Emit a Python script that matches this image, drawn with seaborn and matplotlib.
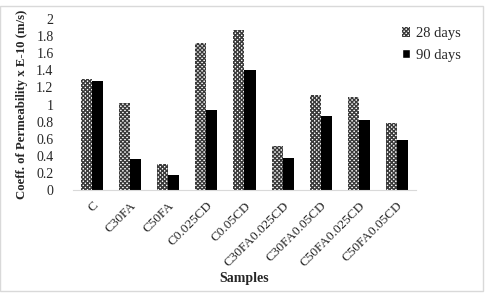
import pandas as pd
import numpy as np
import matplotlib
matplotlib.use('Agg')
import matplotlib.pyplot as plt
import seaborn as sns
from matplotlib.patches import Rectangle

# Données
samples = ['C', 'C30FA', 'C50FA', 'C0.025CD', 'C0.05CD', 'C30FA0.025CD',
           'C30FA0.05CD', 'C50FA0.025CD', 'C50FA0.05CD']
days_28 = [1.30, 1.02, 0.30, 1.72, 1.87, 0.51, 1.11, 1.09, 0.78]
days_90 = [1.28, 0.36, 0.17, 0.93, 1.41, 0.37, 0.87, 0.82, 0.59]
series = ['28 days', '90 days']
y_ticks = [0, 0.2, 0.4, 0.6, 0.8, 1, 1.2, 1.4, 1.6, 1.8, 2]

df = pd.DataFrame({
    'Samples': samples * 2,
    'value': days_28 + days_90,
    'age': [series[0]] * len(samples) + [series[1]] * len(samples),
})

sns.set_style('white')
plt.rcParams['font.family'] = ['Liberation Serif', 'DejaVu Serif']
plt.rcParams['hatch.linewidth'] = 1.0

fig = plt.figure(figsize=(4.87, 2.94), dpi=100)
ax = fig.add_axes([0.150, 0.354, 0.704, 0.581])

sns.barplot(data=df, x='Samples', y='value', hue='age', order=samples,
            hue_order=series, palette=['white', 'black'], width=0.58,
            gap=0, saturation=1, ax=ax, legend=True)

# motif damier pour 28 jours
for bar in ax.containers[0]:
    bar.set_hatch('xxxxxxxx')
    bar.set_edgecolor('#3a3a3a')
    bar.set_linewidth(0)
for bar in ax.containers[1]:
    bar.set_edgecolor('black')
    bar.set_linewidth(0)

ax.set_ylim(0, 2)
ax.set_yticks(y_ticks)
ax.set_yticklabels([f'{t:g}' for t in y_ticks], fontsize=10)
ax.tick_params(axis='y', length=0, pad=14)
ax.set_xticks(range(len(samples)))
ax.set_xticklabels(samples, rotation=45, ha='right', rotation_mode='anchor', fontsize=9.5)
ax.tick_params(axis='x', length=0, pad=7)

for s in ['top', 'right', 'left']:
    ax.spines[s].set_visible(False)
ax.spines['bottom'].set_color('#d9d9d9')
ax.set_xlim(-0.5, len(samples) - 0.5)

ax.set_ylabel('Coeff. of Permeability x E-10 (m/s)', fontsize=9.2, fontweight='bold', labelpad=6)
ax.set_xlabel('Samples', fontsize=10, fontweight='bold', labelpad=2)

handles, labels = ax.get_legend_handles_labels()
handles[0].set_hatch('xxxxxxxx')
handles[0].set_edgecolor('#3a3a3a')
handles[0].set_linewidth(0)
ax.legend(handles, labels, loc='upper left', bbox_to_anchor=(0.92, 1.03), frameon=False,
          fontsize=10.5, handlelength=0.6, handleheight=0.6, handletextpad=0.4,
          labelspacing=0.6)

# cadre gris clair du graphique
fig.patches.append(Rectangle((0, 0.01), 0.992, 0.97, transform=fig.transFigure,
                             fill=False, edgecolor='#d9d9d9', linewidth=1))

fig.savefig('out.png', dpi=100)
